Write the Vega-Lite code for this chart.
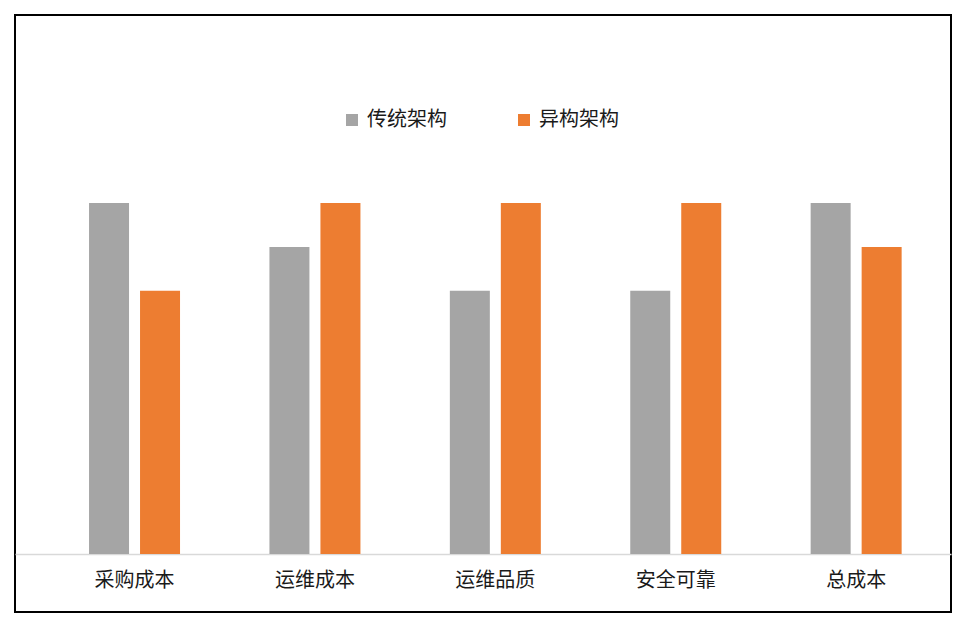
{
  "$schema": "https://vega.github.io/schema/vega-lite/v6.json",
  "width": 936,
  "height": 597,
  "autosize": {"type": "none"},
  "padding": {"left": 15, "top": 15, "right": 21, "bottom": 28},
  "background": "#ffffff",
  "config": {
    "view": {"stroke": "#000000", "strokeWidth": 2},
    "font": "Noto Sans CJK SC"
  },
  "data": {
    "values": [
      {"category": "采购成本", "series": "传统架构", "value": 8},
      {"category": "采购成本", "series": "异构架构", "value": 6},
      {"category": "运维成本", "series": "传统架构", "value": 7},
      {"category": "运维成本", "series": "异构架构", "value": 8},
      {"category": "运维品质", "series": "传统架构", "value": 6},
      {"category": "运维品质", "series": "异构架构", "value": 8},
      {"category": "安全可靠", "series": "传统架构", "value": 6},
      {"category": "安全可靠", "series": "异构架构", "value": 8},
      {"category": "总成本", "series": "传统架构", "value": 8},
      {"category": "总成本", "series": "异构架构", "value": 7}
    ]
  },
  "mark": {"type": "bar"},
  "encoding": {
    "x": {
      "field": "category",
      "type": "nominal",
      "sort": ["采购成本", "运维成本", "运维品质", "安全可靠", "总成本"],
      "scale": {"paddingInner": 0.4956, "paddingOuter": 0.342, "align": 0.6},
      "axis": {
        "title": null,
        "orient": "bottom",
        "offset": -58,
        "labelAngle": 0,
        "ticks": false,
        "tickSize": 0,
        "labelPadding": 16,
        "labelFontSize": 20,
        "labelColor": "#1a1a1a",
        "labelFont": "Noto Sans CJK SC",
        "domainColor": "#D9D9D9",
        "domainWidth": 1.5,
        "grid": false
      }
    },
    "xOffset": {
      "field": "series",
      "type": "nominal",
      "sort": ["传统架构", "异构架构"],
      "scale": {"paddingInner": 0.2157, "paddingOuter": 0}
    },
    "y": {
      "field": "value",
      "type": "quantitative",
      "stack": null,
      "scale": {"domain": [-1.322, 12.285], "nice": false, "zero": false},
      "axis": null
    },
    "color": {
      "field": "series",
      "type": "nominal",
      "sort": ["传统架构", "异构架构"],
      "scale": {"domain": ["传统架构", "异构架构"], "range": ["#A5A5A5", "#ED7D31"]},
      "legend": {
        "title": null,
        "orient": "none",
        "direction": "horizontal",
        "legendX": 327,
        "legendY": 95,
        "padding": 0,
        "symbolType": "square",
        "symbolSize": 144,
        "symbolStrokeWidth": 0,
        "symbolOpacity": 1,
        "labelOffset": 5,
        "labelFontSize": 20,
        "labelColor": "#1a1a1a",
        "labelFont": "Noto Sans CJK SC",
        "labelLimit": 300,
        "columnPadding": 67
      }
    }
  }
}
